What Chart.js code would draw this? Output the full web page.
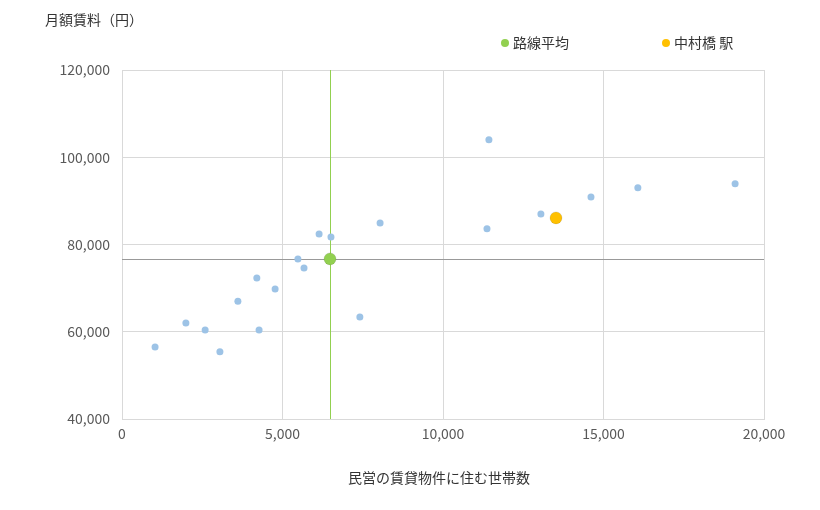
<!DOCTYPE html><html><head><meta charset="utf-8">
<script src="https://cdn.jsdelivr.net/npm/chart.js@4"></script>
<style>html,body{margin:0;background:#fff}#w{width:820px;height:510px}</style></head><body>
<div id="w"><canvas id="c"></canvas></div>
<script>
const households=[1030,1990,2590,3050,3610,4200,4270,4770,5480,5670,6140,6510,7410,8040,11370,11430,13050,14610,16070,19100];
const rents=[56500,62000,60400,55400,67000,72300,60400,69800,76700,74600,82400,81700,63400,84900,83600,104000,87000,90900,93000,93900];
const avgPoint={x:6480,y:76700};
const stationPoint={x:13520,y:86100};
const labels={title:'月額賃料（円）',xTitle:'民営の賃貸物件に住む世帯数',avg:'路線平均',station:'中村橋 駅'};
const F='"Noto Sans CJK JP","Noto Sans",sans-serif';
const extra={id:'extra',
 beforeDatasetsDraw(c){const {ctx,chartArea:a,scales:{x,y}}=c;ctx.save();
  ctx.lineWidth=1;ctx.strokeStyle='#999';const yy=Math.round(y.getPixelForValue(avgPoint.y))+0.5;
  ctx.beginPath();ctx.moveTo(a.left,yy);ctx.lineTo(a.right,yy);ctx.stroke();
  ctx.strokeStyle='#92d050';const xx=Math.round(x.getPixelForValue(avgPoint.x))+0.5;
  ctx.beginPath();ctx.moveTo(xx,a.top);ctx.lineTo(xx,a.bottom);ctx.stroke();ctx.restore();},
 afterDraw(c){const ctx=c.ctx;ctx.save();ctx.fillStyle='#333';ctx.font='14px '+F;ctx.textBaseline='middle';
  ctx.fillText(labels.title,45,20);
  ctx.fillText(labels.xTitle,348,478);
  ctx.fillStyle='#92d050';ctx.beginPath();ctx.arc(505,43,4,0,7);ctx.fill();
  ctx.fillStyle='#333';ctx.fillText(labels.avg,513,43);
  ctx.fillStyle='#ffc000';ctx.beginPath();ctx.arc(666,43,4,0,7);ctx.fill();
  ctx.fillStyle='#333';ctx.fillText(labels.station,674,43);ctx.restore();}};
new Chart(document.getElementById('c'),{type:'scatter',
 data:{datasets:[
  {data:[stationPoint],backgroundColor:'#ffc000',pointRadius:6,pointHoverRadius:6},
  {data:[avgPoint],backgroundColor:'#92d050',pointRadius:6,pointHoverRadius:6},
  {data:households.map((v,i)=>({x:v,y:rents[i]})),backgroundColor:'#9dc3e6',pointRadius:3.5,pointBorderWidth:0}]},
 options:{responsive:true,maintainAspectRatio:false,animation:false,
  layout:{padding:{left:0,right:56,top:70,bottom:0}},
  plugins:{legend:{display:false},tooltip:{enabled:false}},
  scales:{
   x:{min:0,max:20000,ticks:{stepSize:5000,color:'#595959',font:{size:14,family:F},padding:6,maxRotation:0},
      grid:{color:'#d9d9d9',drawTicks:false},border:{color:'#d9d9d9'},afterFit:s=>{s.height=91}},
   y:{min:40000,max:120000,ticks:{stepSize:20000,color:'#595959',font:{size:14,family:F},padding:12},
      grid:{color:'#d9d9d9',drawTicks:false},border:{color:'#d9d9d9'},afterFit:s=>{s.width=122}}}},
 plugins:[extra]});
</script></body></html>
